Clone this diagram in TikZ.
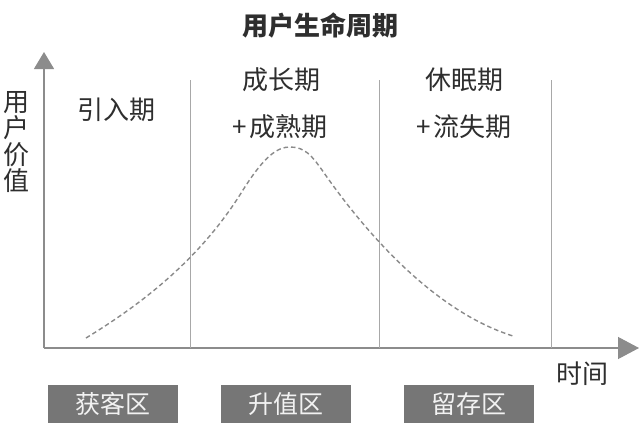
\documentclass[tikz,border=0pt]{standalone}
\usepackage{fontspec}
\setmainfont{Noto Sans CJK SC}
\usetikzlibrary{arrows.meta}
\definecolor{txt}{HTML}{2E2E2E}
\definecolor{axisgray}{HTML}{8C8C8C}
\definecolor{divgray}{HTML}{A8A8A8}
\definecolor{curvegray}{HTML}{8A8A8A}
\definecolor{boxgray}{HTML}{767676}
\definecolor{boxtext}{HTML}{F2F2F2}
\begin{document}
\begin{tikzpicture}[x=1pt,y=-1pt,
  lbl/.style={font=\fontsize{26}{26.5}\selectfont, text=txt, inner sep=0pt},
  titlestyle/.style={font=\fontsize{26}{28}\selectfont\bfseries, text=txt, inner sep=0pt},
  axisline/.style={draw=axisgray, line width=1.2pt},
  divider/.style={draw=divgray, line width=0.9pt},
  curve/.style={draw=curvegray, line width=1.4pt, dash pattern=on 4.5pt off 3pt},
  zone/.style={fill=boxgray, text=boxtext, minimum width=130pt, minimum height=38pt, inner sep=0pt, font=\fontsize{25}{26}\selectfont}]
\useasboundingbox[fill=white] (0,0) rectangle (640,431);
% title
\node[titlestyle] (title) at (320,25) {用户生命周期};
% axes
\coordinate (O) at (44,348);
\coordinate (ytop) at (44,52);
\coordinate (xend) at (639,348);
\draw[axisline, -{Triangle[width=20pt,length=17pt]}, axisgray] (O) -- (ytop);
\draw[axisline, -{Triangle[width=22pt,length=21pt]}, axisgray] (O) -- (xend);
% dividers
\foreach \x/\n in {190/a, 379/b, 551/c} {
  \coordinate (d\n top) at (\x,80);
  \coordinate (d\n bot) at (\x,348);
  \draw[divider] (d\n top) -- (d\n bot);
}
% axis labels
\node[lbl, align=center] (ylab) at (17,142) {用\\户\\价\\值};
\node[lbl] (xlab) at (582,374) {时间};
% phase labels
\node[lbl] (p1) at (116,110) {引入期};
\node[lbl] (p2a) at (281,80) {成长期};
\node[lbl] (p2b) at (280,127) {+\hspace{2pt}成熟期};
\node[lbl] (p3a) at (464,80) {休眠期};
\node[lbl] (p3b) at (464,127) {+\hspace{2pt}流失期};
% curve
\coordinate (c0) at (86,338);
\coordinate (c1) at (243,190);
\coordinate (c2) at (290,147);
\coordinate (c3) at (322,170);
\coordinate (c4) at (513,336);
\draw[curve] (c0) .. controls (140,305) and (200,260) .. (c1)
  .. controls (265,155) and (278,147) .. (c2)
  .. controls (305,147) and (312,156) .. (c3)
  .. controls (360,225) and (430,310) .. (c4);
% zones
\node[zone] (z1) at (113,404) {获客区};
\node[zone] (z2) at (286,404) {升值区};
\node[zone] (z3) at (469,404) {留存区};
\end{tikzpicture}
\end{document}
